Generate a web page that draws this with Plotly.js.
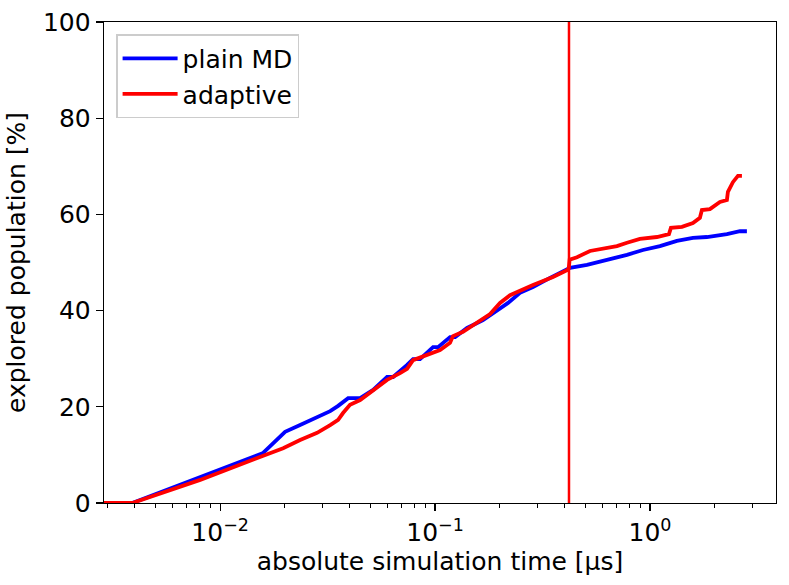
<!DOCTYPE html>
<html>
<head>
<meta charset="utf-8">
<script src="https://cdn.plot.ly/plotly-3.0.1.min.js"></script>
<style>
  html, body { margin: 0; padding: 0; background: #fff; }
  #grafico { width: 789px; height: 585px; }
</style>
</head>
<body>
<div id="grafico"></div>
<script>
// Población explorada vs tiempo absoluto de simulación (µs), MD plano vs adaptativo.
// Valores leídos a ojo de la figura original.
const tiempoPlano = [0.00288, 0.0039, 0.01585, 0.02005, 0.02355, 0.02826, 0.0325, 0.0354, 0.0394, 0.0448,
  0.0515, 0.0598, 0.0638, 0.0741, 0.079, 0.0851, 0.0979, 0.1033, 0.1174, 0.124, 0.1409, 0.1672, 0.2006,
  0.2186, 0.2485, 0.2856, 0.3428, 0.4111, 0.4246, 0.5093, 0.5854, 0.6516, 0.7818, 0.9278, 1.113, 1.335,
  1.585, 1.841, 2.281, 2.623, 2.826];
const poblacionPlano = [0, 0, 10.4, 14.8, 16.2, 17.9, 19.1, 20.2, 21.8, 21.8,
  23.5, 26.2, 26.2, 28.7, 29.9, 29.9, 32.4, 32.4, 34.5, 34.5, 36.4, 38.0, 40.5,
  41.6, 43.7, 44.9, 46.8, 48.4, 48.9, 49.5, 50.1, 50.7, 51.6, 52.6, 53.4, 54.5,
  55.1, 55.3, 55.9, 56.5, 56.5];

const tiempoAdaptativo = [0.00288, 0.0039, 0.00807, 0.01379, 0.01963, 0.02355, 0.02826, 0.0325, 0.0354, 0.0373,
  0.0402, 0.0448, 0.0515, 0.0598, 0.0687, 0.0741, 0.079, 0.0948, 0.1055, 0.1174, 0.1212, 0.1349, 0.1568,
  0.1803, 0.2006, 0.2233, 0.2856, 0.354, 0.4111, 0.419, 0.423, 0.4575, 0.526, 0.631, 0.702, 0.782, 0.898,
  1.078, 1.226, 1.252, 1.409, 1.585, 1.708, 1.745, 1.901, 2.117, 2.281, 2.306, 2.432, 2.567, 2.679];
const poblacionAdaptativo = [0, 0, 4.8, 8.9, 11.4, 13.1, 14.6, 16.2, 17.3, 18.7,
  20.4, 21.4, 23.5, 25.6, 27.0, 27.9, 29.7, 31.0, 31.8, 33.3, 34.7, 35.6, 37.6,
  39.3, 41.6, 43.2, 45.3, 47.0, 48.4, 48.8, 50.6, 51.1, 52.4, 53.0, 53.4, 54.1, 54.9,
  55.3, 55.9, 57.2, 57.4, 58.2, 59.3, 60.9, 61.1, 62.6, 63.0, 64.7, 66.7, 68.0, 68.0];

const tiempoCorte = 0.42; // línea vertical roja
const nombresSeries = ['plain MD', 'adaptive'];
const coloresSeries = ['#0000ff', '#ff0000'];

const fuente = 'DejaVu Sans, sans-serif';
const tamano = 25;

const trazas = [
  {
    type: 'scatter', mode: 'lines', name: nombresSeries[0],
    x: tiempoPlano, y: poblacionPlano,
    line: { color: coloresSeries[0], width: 3.8 },
  },
  {
    type: 'scatter', mode: 'lines', name: nombresSeries[1],
    x: tiempoAdaptativo, y: poblacionAdaptativo,
    line: { color: coloresSeries[1], width: 3.8 },
  },
];

const layout = {
  width: 789, height: 585,
  margin: { l: 104, r: 13, t: 22, b: 82 },
  paper_bgcolor: '#ffffff', plot_bgcolor: '#ffffff',
  font: { family: fuente, size: tamano, color: '#000' },
  showlegend: true,
  legend: {
    x: 0.018, y: 0.975, xanchor: 'left', yanchor: 'top',
    bordercolor: '#cccccc', borderwidth: 1.5, bgcolor: 'rgba(255,255,255,0.8)',
    font: { family: fuente, size: tamano, color: '#000' },
    itemwidth: 55, tracegroupgap: 0,
  },
  xaxis: {
    type: 'log',
    range: [Math.log10(0.00288), Math.log10(3.86)],
    tickvals: [0.01, 0.1, 1],
    ticktext: ['10<sup>\u22122</sup>', '10<sup>\u22121</sup>', '10<sup>0</sup>'],
    ticks: 'outside', ticklen: 7, tickwidth: 1.3, tickcolor: '#000',
    minor: { ticks: 'outside', ticklen: 4, tickwidth: 1, tickcolor: '#000',
      tickvals: [0.003, 0.004, 0.005, 0.006, 0.007, 0.008, 0.009, 0.02, 0.03, 0.04, 0.05, 0.06, 0.07, 0.08, 0.09,
        0.2, 0.3, 0.4, 0.5, 0.6, 0.7, 0.8, 0.9, 2, 3] },
    showgrid: false, zeroline: false,
    showline: true, mirror: true, linecolor: '#000', linewidth: 1.3,
    tickfont: { family: fuente, size: tamano, color: '#000' },
    title: { text: 'absolute simulation time [µs]', font: { family: fuente, size: tamano, color: '#000' }, standoff: 6 },
  },
  yaxis: {
    range: [0, 100], dtick: 20,
    ticks: 'outside', ticklen: 7, tickwidth: 1.3, tickcolor: '#000',
    showgrid: false, zeroline: false,
    showline: true, mirror: true, linecolor: '#000', linewidth: 1.3,
    tickfont: { family: fuente, size: tamano, color: '#000' },
    title: { text: 'explored population [%]', font: { family: fuente, size: tamano, color: '#000' }, standoff: 10 },
  },
  shapes: [
    { type: 'line', xref: 'x', yref: 'paper', x0: tiempoCorte, x1: tiempoCorte, y0: 0, y1: 1,
      line: { color: coloresSeries[1], width: 2.5 } },
  ],
};

Plotly.newPlot('grafico', trazas, layout, { displayModeBar: false, staticPlot: true });
</script>
</body>
</html>
